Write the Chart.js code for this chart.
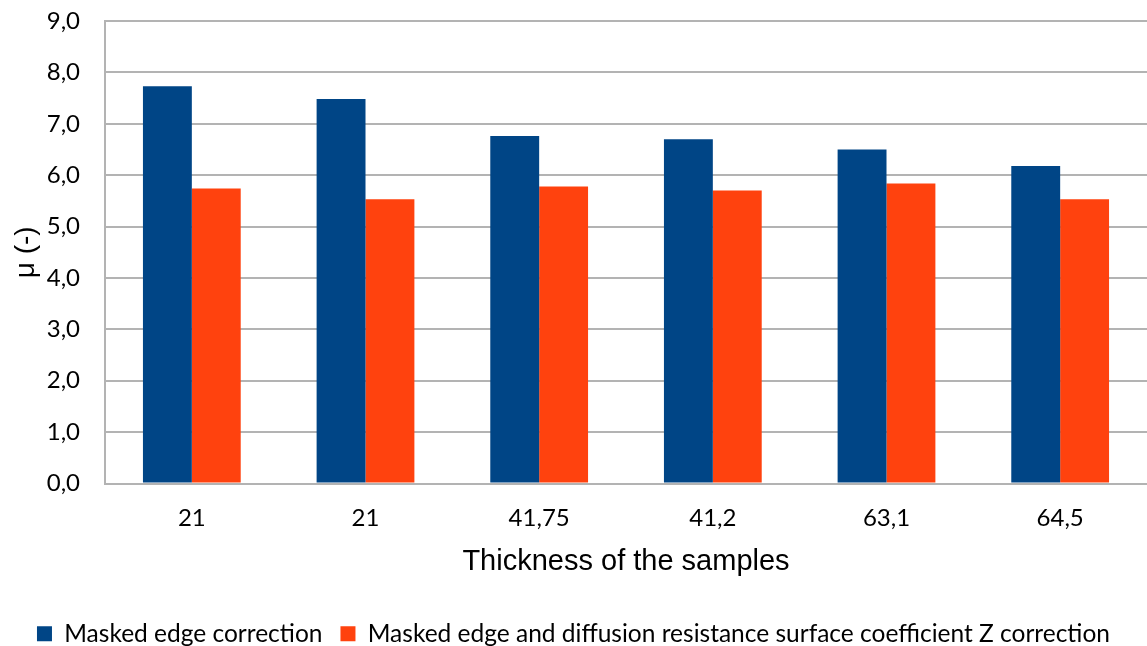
<!DOCTYPE html>
<html>
<head>
<meta charset="utf-8">
<script src="https://cdn.jsdelivr.net/npm/chart.js@4/dist/chart.umd.min.js"></script>
<style>
    html, body { margin: 0; padding: 0; background: #fff; overflow: hidden; }
    #wrap { width: 1147px; height: 656px; }
</style>
</head>
<body>
<div id="wrap"><canvas id="chart"></canvas></div>
<script>
// 数据
const categories = ['21', '21', '41,75', '41,2', '63,1', '64,5'];
const maskedEdge = [7.73, 7.48, 6.76, 6.70, 6.50, 6.18];
const maskedEdgeZ = [5.74, 5.53, 5.78, 5.70, 5.84, 5.53];
const seriesNames = [
    'Masked edge correction',
    'Masked edge and diffusion resistance surface coefficient Z correction'
];

const tickFont = { family: 'Lato', size: 24 };

const ctx = document.getElementById('chart').getContext('2d');
new Chart(ctx, {
    type: 'bar',
    data: {
        labels: categories,
        datasets: [{
            label: seriesNames[0],
            data: maskedEdge,
            backgroundColor: '#004586',
            categoryPercentage: 0.563,
            barPercentage: 1.0
        }, {
            label: seriesNames[1],
            data: maskedEdgeZ,
            backgroundColor: '#ff420e',
            categoryPercentage: 0.563,
            barPercentage: 1.0
        }]
    },
    options: {
        responsive: true,
        maintainAspectRatio: false,
        animation: false,
        layout: { padding: 0 },
        plugins: {
            legend: {
                position: 'bottom',
                labels: {
                    boxWidth: 15,
                    boxHeight: 15,
                    padding: 18,
                    color: '#000',
                    font: { family: 'Lato', size: 24.5 }
                }
            },
            tooltip: { enabled: false }
        },
        scales: {
            x: {
                grid: { display: false, drawTicks: false },
                border: { color: '#b3b3b3', width: 2 },
                ticks: { color: '#000', font: tickFont, padding: 20 },
                title: {
                    display: true,
                    text: 'Thickness of the samples',
                    color: '#000',
                    font: { family: 'Liberation Sans', size: 29 },
                    padding: { top: 0, bottom: 24 }
                },
                afterFit: (scale) => { scale.height = 120; }
            },
            y: {
                min: 0,
                max: 9,
                ticks: {
                    stepSize: 1,
                    color: '#000',
                    font: tickFont,
                    padding: 25,
                    callback: (v) => v.toFixed(1).replace('.', ',')
                },
                grid: { color: '#b3b3b3', lineWidth: 2, drawTicks: false },
                border: { color: '#b3b3b3', width: 2 },
                title: {
                    display: true,
                    text: 'μ (-)',
                    color: '#000',
                    font: { family: 'Liberation Sans', size: 28 },
                    padding: { top: 9, bottom: 0 }
                },
                afterFit: (scale) => {
                    scale.width = 105;
                    scale.paddingTop = 21;
                    scale.paddingBottom = 0;
                }
            }
        }
    }
});
</script>
</body>
</html>
